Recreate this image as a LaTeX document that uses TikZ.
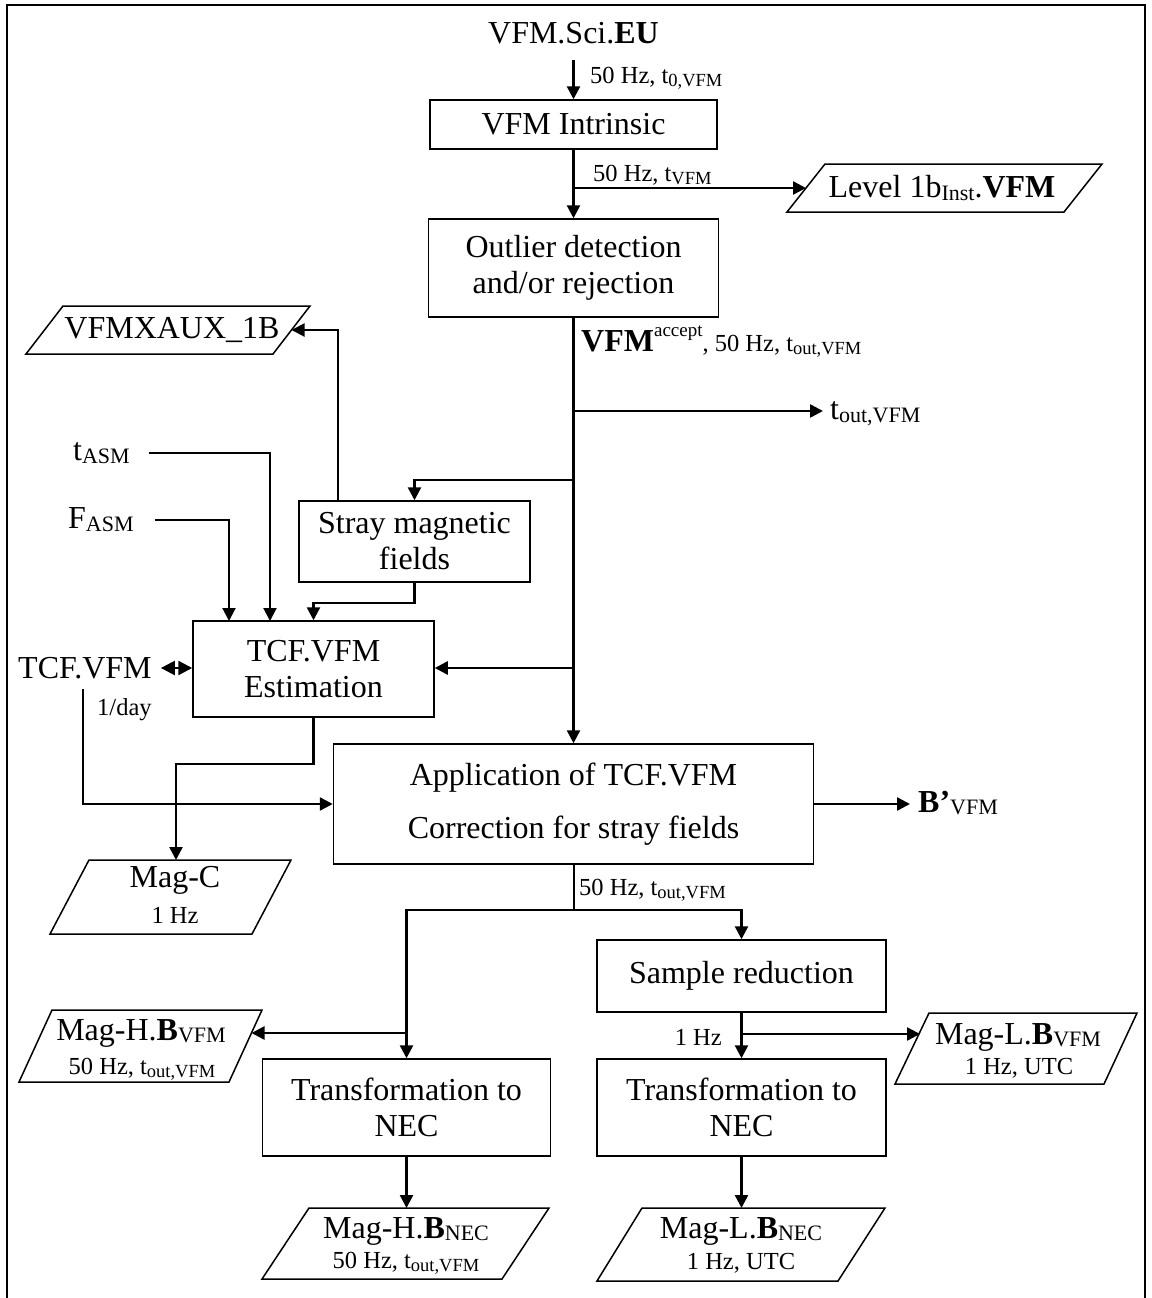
\documentclass[tikz,border=0pt]{standalone}
\usepackage{fontspec}
\setmainfont{Liberation Serif}
\usetikzlibrary{arrows.meta,calc}
\newcommand{\fm}{\fontsize{32}{36}\selectfont}
\newcommand{\fs}{\fontsize{24.5}{28}\selectfont}
\newcommand{\sbm}[1]{\raisebox{-0.2ex}{\fontsize{22}{22}\selectfont #1}}
\newcommand{\sbs}[1]{\raisebox{-0.3ex}{\fontsize{18.5}{18.5}\selectfont #1}}
\begin{document}
\begin{tikzpicture}[x=1pt,y=-1pt,
  box/.style={draw,line width=1.5pt,inner sep=0pt,align=center,font=\fm},
  conn/.style={line width=2.5pt,-{Triangle[length=13pt,width=13pt]}},
  thinconn/.style={line width=2pt,-{Triangle[length=13pt,width=13pt]}},
  wire/.style={line width=2pt},
  para/.style={draw,line width=1.5pt,line join=miter},
  lbl/.style={inner sep=0pt,font=\fs},
  big/.style={inner sep=0pt,font=\fm}]
\useasboundingbox (0,0) rectangle (1151,1298);
% frame
\draw[line width=1.5pt] (7,1310) -- (7,5) -- (1145,5) -- (1145,1310);

% process boxes
\node[big] (sci) at (573.5,33) {VFM.Sci.\textbf{EU}};
\node[box,minimum width=287pt,minimum height=49pt] (intr) at (573.5,124.5) {VFM Intrinsic};
\node[box,minimum width=290pt,minimum height=98pt] (outl) at (573.5,268) {Outlier detection\\and/or rejection};
\node[box,minimum width=231pt,minimum height=81pt] (stray) at (414.5,541.5) {Stray magnetic\\fields};
\node[box,minimum width=241pt,minimum height=96pt] (tcf) at (313.5,669) {TCF.VFM\\Estimation};
\node[box,minimum width=480pt,minimum height=120pt] (app) at (573.5,804) {Application of TCF.VFM\\[17pt]Correction for stray fields};
\node[box,minimum width=289pt,minimum height=72pt] (samp) at (741.5,976) {Sample reduction};
\node[box,minimum width=288pt,minimum height=97pt] (trl) at (406.5,1107.5) {Transformation to\\NEC};
\node[box,minimum width=289pt,minimum height=97pt] (trr) at (741.5,1107.5) {Transformation to\\NEC};

% data parallelograms
\draw[para] (825,164) -- (1102,164) -- (1064,212) -- (787,212) -- cycle;
\node[big] (lvl) at (942,188) {Level 1b\sbm{Inst}.\textbf{VFM}};
\coordinate (lvlw) at (806,188);

\draw[para] (63,306) -- (310,306) -- (273,354) -- (26,354) -- cycle;
\node[big] (aux) at (172,330) {VFMXAUX\_1B};
\coordinate (auxe) at (291.5,330);

\draw[para] (89,860) -- (291,860) -- (252,934) -- (50,934) -- cycle;
\node[big] (magc) at (175,880) {Mag-C};
\node[lbl] (magcr) at (175,915) {1 Hz};
\coordinate (magcn) at (176,860);

\draw[para] (52,1010) -- (262,1010) -- (229,1082) -- (19,1082) -- cycle;
\node[big] (maghv) at (141,1033) {Mag-H.\textbf{B}\sbm{VFM}};
\node[lbl] (maghvr) at (142,1069) {50 Hz, t\sbs{out,VFM}};
\coordinate (maghve) at (251.5,1033);

\draw[para] (309,1208) -- (549,1208) -- (502,1279) -- (262,1279) -- cycle;
\node[big] (maghn) at (406,1231) {Mag-H.\textbf{B}\sbm{NEC}};
\node[lbl] (maghnr) at (406,1263) {50 Hz, t\sbs{out,VFM}};
\coordinate (maghnn) at (406.5,1208);

\draw[para] (929,1013) -- (1137,1013) -- (1104,1084) -- (895,1084) -- cycle;
\node[big] (maglv) at (1018,1037) {Mag-L.\textbf{B}\sbm{VFM}};
\node[lbl] (maglvr) at (1019,1068) {1 Hz, UTC};
\coordinate (maglvw) at (920,1034);

\draw[para] (642,1208) -- (885,1208) -- (838,1281) -- (597,1281) -- cycle;
\node[big] (magln) at (741,1231) {Mag-L.\textbf{B}\sbm{NEC}};
\node[lbl] (maglnr) at (741,1263) {1 Hz, UTC};
\coordinate (maglnn) at (741.5,1208);

% free labels
\node[lbl,anchor=west] (l1) at (590,78) {50 Hz, t\sbs{0,VFM}};
\node[lbl,anchor=west] (l2) at (593,175) {50 Hz, t\sbs{VFM}};
\node[lbl,anchor=west] (l3) at (581,342) {{\fm\bfseries VFM}\raisebox{1.3ex}{\fontsize{19}{19}\selectfont accept}, 50 Hz, t\sbs{out,VFM}};
\node[big,anchor=west] (tout) at (830,414) {t\sbm{out,VFM}};
\node[big,anchor=west] (tasm) at (73,453) {t\sbm{ASM}};
\node[big,anchor=west] (fasm) at (68,520) {F\sbm{ASM}};
\node[big,anchor=west] (tcfv) at (18,668) {TCF.VFM};
\node[lbl,anchor=west] (day) at (97,710) {1/day};
\node[big,anchor=west] (bp) at (918,803) {\textbf{B’}\sbm{VFM}};
\node[lbl,anchor=west] (l4) at (579,890) {50 Hz, t\sbs{out,VFM}};
\node[lbl,anchor=east] (l5) at (722,1037) {1 Hz};

% helper coordinates
\coordinate (toutp) at (823,411);
\coordinate (sb) at (573.5,480);
\coordinate (sx) at (338,501);
\coordinate (tcfin1) at (229,621);
\coordinate (tcfin2) at (270,621);
\coordinate (mt) at (573.5,668);
\coordinate (tcfvd) at (83,689);
\coordinate (ab) at (573.5,910);
\coordinate (hb) at (406.5,1033);
\coordinate (lb) at (741.5,1034);

% connectors
\draw[conn,shorten <=16pt] (sci.south) -- (intr.north);
\draw[conn] (intr.south) -- (outl.north);
\draw[conn] (intr.south |- lvlw) -- (lvlw);
\draw[conn] (outl.south) -- (app.north);
\draw[conn] (outl.south |- toutp) -- (toutp);
\draw[conn] (sb) -| (stray.north);
\draw[thinconn] (sx) |- (auxe);
\draw[thinconn,shorten <=19pt] (tasm.east) -| (tcfin2);
\draw[thinconn,shorten <=21pt] (fasm.east) -| (tcfin1);
\draw[conn] (stray.south) -- ++(0,20) -| (tcf.north);
\draw[conn] (mt) -- (tcf.east |- mt);
\draw[line width=2.5pt,{Triangle[length=14pt,width=14pt]}-{Triangle[length=14pt,width=14pt]},shorten <=9pt] (tcfv.east) -- (tcf.west |- tcfv.east);
\draw[conn] (tcfvd) |- (app.west);
\draw[conn] (tcf.south) -- ++(0,46) -| (magcn);
\draw[conn,shorten >=8pt] (app.east) -- (bp.west |- app.east);
\draw[wire] (app.south) -- (ab);
\draw[conn] (ab) -| (trl.north);
\draw[conn] (ab) -| (samp.north);
\draw[conn] (hb) -- (maghve);
\draw[conn] (trl.south) -- (maghnn);
\draw[conn] (samp.south) -- (trr.north);
\draw[conn] (lb) -- (maglvw);
\draw[conn] (trr.south) -- (maglnn);
\end{tikzpicture}
\end{document}
